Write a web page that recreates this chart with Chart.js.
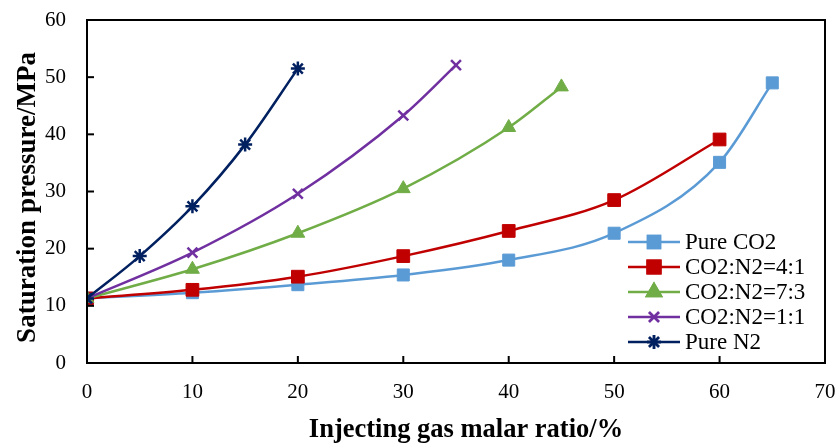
<!DOCTYPE html>
<html>
<head>
<meta charset="utf-8">
<script src="https://cdn.jsdelivr.net/npm/chart.js@4"></script>
<style>
  html, body { margin: 0; padding: 0; background: #fff; }
  #wrap { width: 839px; height: 443px; }
</style>
</head>
<body>
<div id="wrap"><canvas id="satChart" width="839" height="443"></canvas></div>
<script>
// Data
const seriesNames = ['Pure CO2', 'CO2:N2=4:1', 'CO2:N2=7:3', 'CO2:N2=1:1', 'Pure N2'];

const pureCO2X = [0, 10, 20, 30, 40, 50, 60, 65];
const pureCO2Y = [11.3, 12.3, 13.7, 15.4, 18.0, 22.7, 35.1, 49.0];

const mix41X = [0, 10, 20, 30, 40, 50, 60];
const mix41Y = [11.3, 12.8, 15.1, 18.7, 23.1, 28.5, 39.1];

const mix73X = [0, 10, 20, 30, 40, 45];
const mix73Y = [11.3, 16.4, 22.7, 30.5, 41.2, 48.3];

const mix11X = [0, 10, 20, 30, 35];
const mix11Y = [11.3, 19.3, 29.6, 43.3, 52.1];

const pureN2X = [0, 5, 10, 15, 20];
const pureN2Y = [11.3, 18.7, 27.4, 38.2, 51.5];

const xTicks = [0, 10, 20, 30, 40, 50, 60, 70];
const yTicks = [0, 10, 20, 30, 40, 50, 60];

const xTitle = 'Injecting gas malar ratio/%';
const yTitle = 'Saturation pressure/MPa';

const serif = '"Liberation Serif", "Times New Roman", serif';

function toPoints(xs, ys) {
    return xs.map((x, i) => ({ x: x, y: ys[i] }));
}

function makeSet(label, xs, ys, color, style, radius, order) {
    return {
        label: label,
        data: toPoints(xs, ys),
        borderColor: color,
        backgroundColor: color,
        borderWidth: 2.5,
        pointStyle: style,
        pointRadius: radius,
        pointBorderWidth: style === 'crossRot' || style === 'star' ? 2.5 : 1,
        tension: 0.4,
        cubicInterpolationMode: 'monotone',
        fill: false,
        order: order
    };
}

// inward ticks, frame, axis titles and legend inside the plot
const framePlugin = {
    id: 'framePlugin',
    afterDatasetsDraw(chart) {
        const ctx = chart.ctx;
        const a = chart.chartArea;
        const xs = chart.scales.x, ys = chart.scales.y;
        ctx.save();
        ctx.strokeStyle = '#000';
        ctx.lineWidth = 2;
        xTicks.forEach(v => {
            const px = xs.getPixelForValue(v);
            ctx.beginPath();
            ctx.moveTo(px, a.bottom);
            ctx.lineTo(px, a.bottom - 7);
            ctx.stroke();
        });
        yTicks.forEach(v => {
            const py = ys.getPixelForValue(v);
            ctx.beginPath();
            ctx.moveTo(a.left, py);
            ctx.lineTo(a.left + 7, py);
            ctx.stroke();
        });
        ctx.strokeRect(a.left, a.top, a.right - a.left, a.bottom - a.top);

        // axis titles (the figure has them slightly off the plot centre)
        ctx.fillStyle = '#000';
        ctx.textAlign = 'center';
        ctx.textBaseline = 'middle';
        ctx.font = 'bold 26.5px ' + serif;
        ctx.fillText(xTitle, (a.left + a.right) / 2 + 10, 430);

        ctx.save();
        ctx.translate(28, (a.top + a.bottom) / 2 + 6);
        ctx.rotate(-Math.PI / 2);
        ctx.font = 'bold 27px ' + serif;
        ctx.fillText(yTitle, 0, 0);
        ctx.restore();

        // legend
        const x0 = a.right - 197;
        const y0 = a.bottom - 121;
        ctx.font = '23px ' + serif;
        ctx.textAlign = 'left';
        ctx.textBaseline = 'middle';
        chart.data.datasets.forEach((ds, i) => {
            const y = y0 + i * 25;
            ctx.strokeStyle = ds.borderColor;
            ctx.lineWidth = 2.5;
            ctx.beginPath();
            ctx.moveTo(x0, y);
            ctx.lineTo(x0 + 52, y);
            ctx.stroke();
            Chart.helpers.drawPoint(ctx, {
                pointStyle: ds.pointStyle,
                radius: ds.pointRadius,
                borderWidth: ds.pointBorderWidth
            }, x0 + 26, y);
            ctx.fillStyle = ds.borderColor;
            ctx.fill();
            ctx.stroke();
            ctx.fillStyle = '#000';
            ctx.fillText(ds.label, x0 + 57, y + 1);
        });
        ctx.restore();
    }
};

const ctx = document.getElementById('satChart').getContext('2d');
const satChart = new Chart(ctx, {
    type: 'line',
    data: {
        datasets: [
            makeSet(seriesNames[0], pureCO2X, pureCO2Y, '#5B9BD5', 'rect', 8.5, 5),
            makeSet(seriesNames[1], mix41X, mix41Y, '#C00000', 'rect', 9, 4),
            makeSet(seriesNames[2], mix73X, mix73Y, '#70AD47', 'triangle', 8, 3),
            makeSet(seriesNames[3], mix11X, mix11Y, '#7030A0', 'crossRot', 7, 2),
            makeSet(seriesNames[4], pureN2X, pureN2Y, '#002060', 'star', 7, 1)
        ]
    },
    options: {
        responsive: false,
        animation: false,
        layout: { padding: { top: 20, right: 14, left: 0, bottom: 0 } },
        plugins: {
            legend: { display: false },
            tooltip: { enabled: false }
        },
        scales: {
            x: {
                type: 'linear',
                min: 0,
                max: 70,
                afterBuildTicks: s => { s.ticks = xTicks.map(v => ({ value: v })); },
                afterFit: s => { s.height = 80; s.paddingLeft = 0; s.paddingRight = 0; },
                grid: { display: false, drawTicks: false },
                border: { display: false },
                ticks: {
                    padding: 17,
                    maxRotation: 0,
                    color: '#000',
                    font: { family: serif, size: 21 }
                }
            },
            y: {
                type: 'linear',
                min: 0,
                max: 60,
                afterBuildTicks: s => { s.ticks = yTicks.map(v => ({ value: v })); },
                afterFit: s => { s.width = 87; s.paddingTop = 0; s.paddingBottom = 0; },
                grid: { display: false, drawTicks: false },
                border: { display: false },
                ticks: {
                    padding: 21,
                    color: '#000',
                    font: { family: serif, size: 21 }
                }
            }
        }
    },
    plugins: [framePlugin]
});
</script>
</body>
</html>
